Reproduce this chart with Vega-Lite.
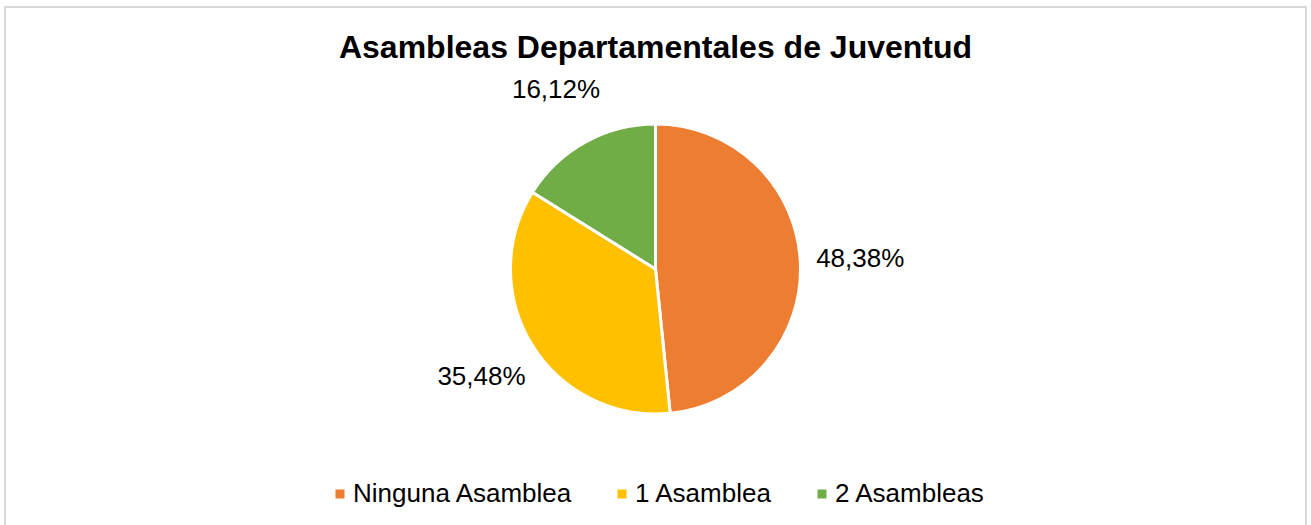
{
  "$schema": "https://vega.github.io/schema/vega-lite/v6.json",
  "width": 1301,
  "height": 524,
  "autosize": {"type": "none"},
  "padding": {"left": 5, "top": 7, "right": 5, "bottom": 0},
  "background": "#FFFFFF",
  "config": {
    "view": {"stroke": null},
    "locale": {"number": {"decimal": ",", "thousands": ".", "grouping": [3], "currency": ["", " €"]}},
    "font": "Liberation Sans"
  },
  "title": {
    "text": "Asambleas Departamentales de Juventud",
    "font": "Liberation Sans",
    "fontSize": 32,
    "fontWeight": "bold",
    "color": "#000000",
    "anchor": "middle",
    "dy": 63
  },
  "data": {
    "values": [
      {"categoria": "Ninguna Asamblea", "valor": 0.4838, "orden": 1},
      {"categoria": "1 Asamblea", "valor": 0.3548, "orden": 2},
      {"categoria": "2 Asambleas", "valor": 0.1612, "orden": 3}
    ]
  },
  "layer": [
    {
      "data": {"values": [{"marco": "borde"}]},
      "mark": {"type": "rect", "fill": null, "fillOpacity": 0, "stroke": "#D9D9D9", "strokeWidth": 2},
      "encoding": {}
    },
    {
      "mark": {"type": "arc", "outerRadius": 145, "stroke": "#FFFFFF", "strokeWidth": 3},
      "encoding": {
        "theta": {"field": "valor", "type": "quantitative", "stack": true},
        "order": {"field": "orden", "type": "quantitative", "sort": "ascending"},
        "color": {
          "field": "categoria",
          "type": "nominal",
          "sort": ["Ninguna Asamblea", "1 Asamblea", "2 Asambleas"],
          "scale": {
            "domain": ["Ninguna Asamblea", "1 Asamblea", "2 Asambleas"],
            "range": ["#ED7D31", "#FFC000", "#70AD47"]
          },
          "legend": {
            "title": null,
            "orient": "none",
            "direction": "horizontal",
            "legendX": 322,
            "legendY": 474,
            "padding": 0,
            "symbolType": "square",
            "symbolSize": 81,
            "symbolStrokeWidth": 0,
            "labelFont": "Liberation Sans",
            "labelFontSize": 26,
            "labelColor": "#000000",
            "labelOffset": 0,
            "columnPadding": 36,
            "labelLimit": 400
          }
        }
      }
    },
    {
      "mark": {"type": "text", "radius": 205, "font": "Liberation Sans", "fontSize": 26, "color": "#000000"},
      "encoding": {
        "theta": {"field": "valor", "type": "quantitative", "stack": true},
        "order": {"field": "orden", "type": "quantitative", "sort": "ascending"},
        "text": {"field": "valor", "type": "quantitative", "format": ".2%"}
      }
    }
  ]
}
